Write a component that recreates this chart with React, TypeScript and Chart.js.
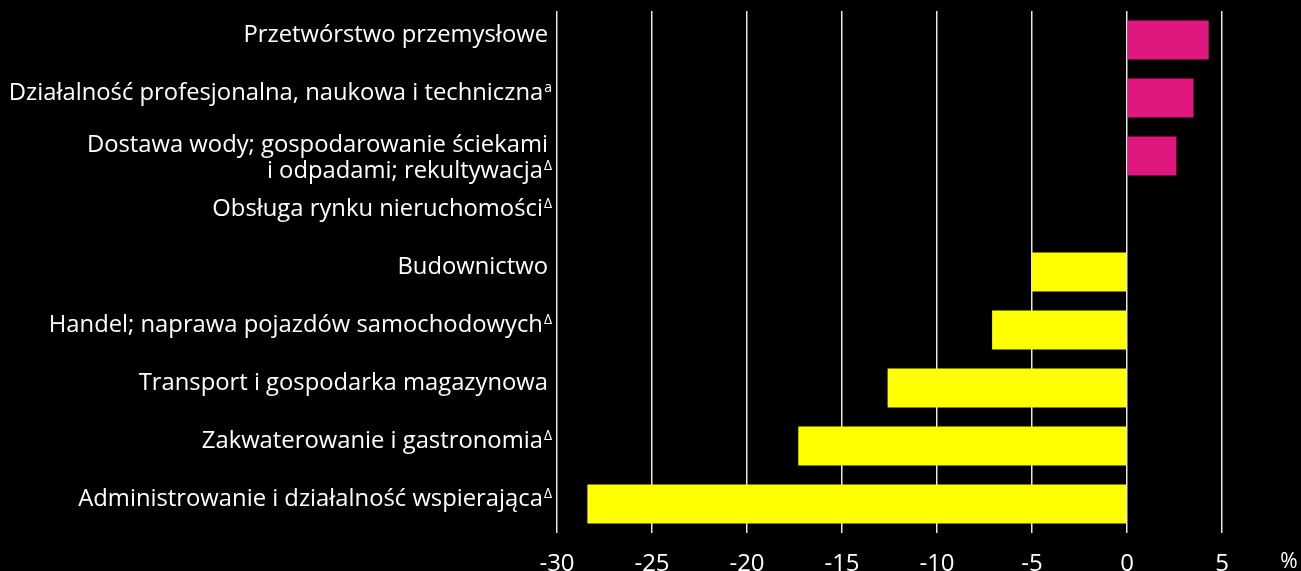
import React, { useEffect, useRef } from "react";
import { Chart, registerables } from "chart.js";

Chart.register(...registerables);

const categories: string[][] = [
  ["Przetwórstwo przemysłowe"],
  ["Działalność profesjonalna, naukowa i techniczna"],
  ["Dostawa wody; gospodarowanie ściekami", "i odpadami; rekultywacja"],
  ["Obsługa rynku nieruchomości"],
  ["Budownictwo"],
  ["Handel; naprawa pojazdów samochodowych"],
  ["Transport i gospodarka magazynowa"],
  ["Zakwaterowanie i gastronomia"],
  ["Administrowanie i działalność wspierająca"],
];
const superscripts: string[] = ["", "a", "Δ", "Δ", "", "Δ", "", "Δ", "Δ"];
const values: number[] = [4.3, 3.5, 2.6, 0, -5.0, -7.1, -12.6, -17.3, -28.4];
const unitLabel = "%";

const FONT = "'Open Sans', sans-serif";
const POS = "#E0177F";
const NEG = "#FFFF00";

export default function App() {
  const ref = useRef<HTMLCanvasElement | null>(null);
  useEffect(() => {
    document.body.style.margin = "0";
    document.body.style.background = "#000";
    const canvas = ref.current!;
    const labelPlugin = {
      id: "labels",
      afterDraw(chart: any) {
        const ctx = chart.ctx;
        const y = chart.scales.y;
        ctx.save();
        ctx.fillStyle = "#ffffff";
        ctx.textBaseline = "alphabetic";
        const lh = 26;
        categories.forEach((lines, i) => {
          const c = y.getPixelForValue(i);
          const sup = superscripts[i];
          const n = lines.length;
          lines.forEach((line, j) => {
            const base = n === 1 ? c + 2 : c - 4 + j * lh;
            const isLast = j === n - 1;
            let right = 548;
            if (isLast && sup) {
              ctx.font = `14px ${FONT}`;
              const sw = ctx.measureText(sup).width;
              ctx.textAlign = "right";
              ctx.fillText(sup, 552, base - 8);
              right = 552 - sw - 1;
            }
            ctx.font = `23.8px ${FONT}`;
            ctx.textAlign = "right";
            ctx.fillText(line, right, base);
          });
        });
        ctx.font = `21px ${FONT}`;
        ctx.textAlign = "center";
        ctx.fillText(unitLabel, 1289, 568);
        ctx.restore();
      },
    };
    const chart = new Chart(canvas, {
      type: "bar",
      data: {
        labels: categories.map((c) => c.join(" ")),
        datasets: [
          {
            data: values,
            backgroundColor: values.map((v) => (v >= 0 ? POS : NEG)),
            barPercentage: 0.67,
            categoryPercentage: 1,
          },
        ],
      },
      options: {
        indexAxis: "y",
        animation: false,
        responsive: false,
        maintainAspectRatio: false,
        layout: { padding: { top: 11, right: 3, left: 0, bottom: 0 } },
        plugins: { legend: { display: false }, tooltip: { enabled: false } },
        scales: {
          x: {
            min: -30,
            max: 9,
            afterBuildTicks(scale: any) {
              scale.ticks = scale.ticks.filter((t: any) => t.value % 5 === 0 && t.value <= 5);
            },
            afterFit(scale: any) {
              scale.height = 38;
            },
            ticks: {
              stepSize: 5,
              color: "#ffffff",
              font: { family: FONT, size: 24 },
              padding: 17,
            },
            grid: {
              color: "#e6e6e6",
              lineWidth: 1.5,
              drawTicks: false,
            },
            border: { display: false },
          },
          y: {
            ticks: { display: false },
            grid: { display: false },
            border: { display: false },
            afterFit(scale: any) {
              scale.width = 557;
            },
          },
        },
      },
      plugins: [labelPlugin],
    });
    return () => chart.destroy();
  }, []);
  return (
    <div style={{ width: 1301, height: 571, background: "#000" }}>
      <canvas ref={ref} width={1301} height={571} style={{ display: "block" }} />
    </div>
  );
}
